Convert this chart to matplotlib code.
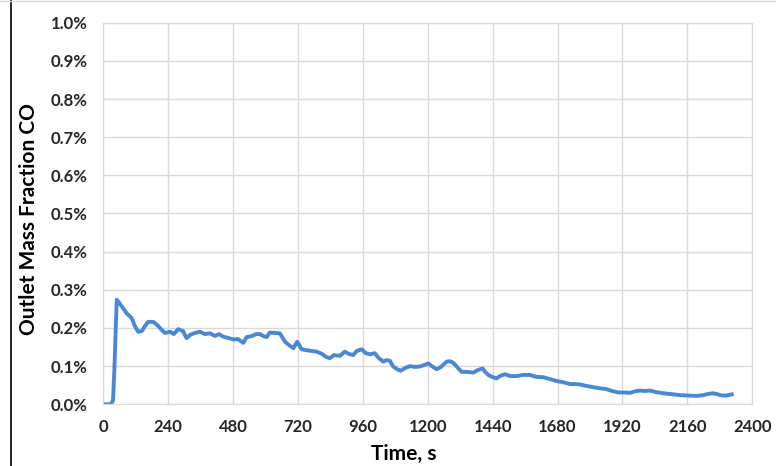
import matplotlib.pyplot as plt
from matplotlib.lines import Line2D
from matplotlib.ticker import PercentFormatter, MultipleLocator

# outlet CO mass fraction (percent) against time (s)
time_s = [0, 28, 36, 41, 47, 50, 62, 73, 87, 105, 117, 129, 143, 154, 166, 185,
          199, 216, 228, 247, 261, 277, 295, 308, 321, 339, 358, 376, 395, 413,
          428, 444, 461, 481, 498, 518, 530, 550, 565, 580, 591, 604, 616, 635,
          653, 672, 687, 703, 717, 734, 750, 768, 789, 809, 824, 838, 853, 875,
          893, 908, 924, 938, 956, 971, 986, 1004, 1019, 1035, 1049, 1060, 1072,
          1086, 1100, 1116, 1134, 1152, 1171, 1186, 1202, 1215, 1233, 1249, 1270,
          1282, 1294, 1308, 1325, 1345, 1368, 1386, 1403, 1412, 1424, 1437, 1455,
          1467, 1486, 1504, 1529, 1552, 1578, 1600, 1627, 1652, 1677, 1700, 1726,
          1748, 1763, 1788, 1811, 1837, 1859, 1881, 1905, 1926, 1948, 1967, 1985,
          2003, 2022, 2044, 2071, 2096, 2133, 2162, 2194, 2218, 2236, 2256, 2273,
          2288, 2305, 2324]
co_pct = [0.0, 0.0, 0.01, 0.09, 0.22, 0.274, 0.263, 0.252, 0.238, 0.226, 0.205,
          0.19, 0.192, 0.205, 0.216, 0.216, 0.208, 0.195, 0.187, 0.19, 0.184,
          0.197, 0.192, 0.173, 0.182, 0.187, 0.19, 0.184, 0.186, 0.179, 0.184,
          0.177, 0.174, 0.170, 0.171, 0.161, 0.176, 0.179, 0.184, 0.184, 0.179,
          0.176, 0.188, 0.187, 0.186, 0.164, 0.155, 0.147, 0.164, 0.144, 0.142,
          0.140, 0.138, 0.132, 0.124, 0.121, 0.129, 0.127, 0.138, 0.132, 0.129,
          0.140, 0.144, 0.134, 0.131, 0.134, 0.121, 0.112, 0.116, 0.114, 0.099,
          0.092, 0.088, 0.095, 0.100, 0.098, 0.099, 0.103, 0.107, 0.100, 0.092,
          0.098, 0.112, 0.113, 0.109, 0.098, 0.085, 0.085, 0.083, 0.090, 0.094,
          0.085, 0.077, 0.072, 0.068, 0.074, 0.079, 0.074, 0.074, 0.077, 0.077,
          0.072, 0.071, 0.066, 0.061, 0.058, 0.053, 0.053, 0.052, 0.048, 0.045,
          0.042, 0.040, 0.035, 0.031, 0.031, 0.030, 0.034, 0.036, 0.035, 0.036,
          0.032, 0.029, 0.027, 0.024, 0.023, 0.022, 0.024, 0.027, 0.029, 0.026,
          0.023, 0.023, 0.026]

plt.rcParams['font.family'] = ['Lato', 'DejaVu Sans']

fig = plt.figure(figsize=(7.76, 4.66), dpi=100)
ax = fig.add_axes([0.1331, 0.1324, 0.8363, 0.8189])

ax.plot(time_s, co_pct, color='#4a88d6', lw=2.8, solid_joinstyle='round')

ax.set_xlim(0, 2400)
ax.set_ylim(0, 1.0)
ax.xaxis.set_major_locator(MultipleLocator(240))
ax.yaxis.set_major_locator(MultipleLocator(0.1))
ax.yaxis.set_major_formatter(PercentFormatter(xmax=100, decimals=1))

ax.grid(True, color='#d9d9d9', lw=1)
ax.set_axisbelow(True)
for s in ax.spines.values():
    s.set_color('#d9d9d9')
ax.tick_params(length=0, labelsize=12, colors='#262626')
ax.tick_params(axis='y', pad=11.5)
ax.tick_params(axis='x', pad=10.5)
for lab in ax.get_xticklabels() + ax.get_yticklabels():
    lab.set_fontweight('bold')

ax.set_xlabel('Time, s', fontsize=15, fontweight='bold')
ax.xaxis.set_label_coords(0.463, -0.104)
ax.set_ylabel('Outlet Mass Fraction CO', fontsize=15, fontweight='bold', labelpad=8)
ax.yaxis.label.set_y(0.485)

# chart frame edges
fig.add_artist(Line2D([11 / 776, 11 / 776], [0, 1], color='black', lw=1.2))
fig.add_artist(Line2D([0, 1], [0.998, 0.998], color='#d9d9d9', lw=1))

fig.savefig('out.png', dpi=100)
